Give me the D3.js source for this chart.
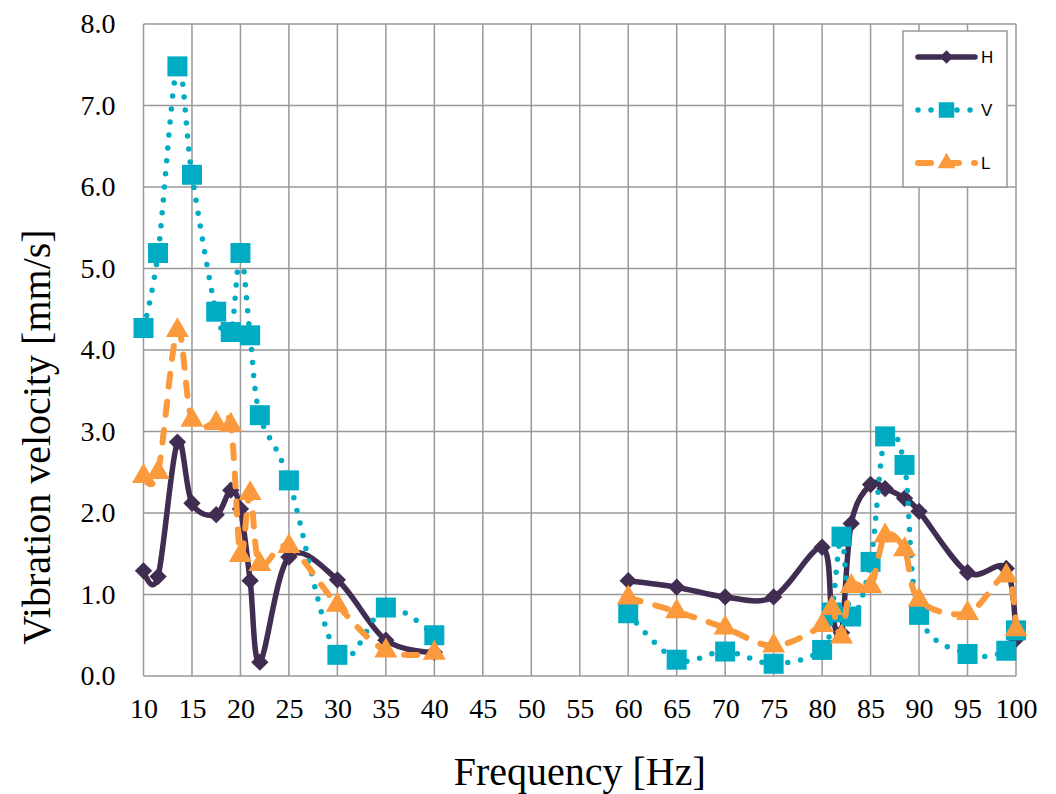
<!DOCTYPE html>
<html>
<head>
<meta charset="utf-8">
<script src="https://cdn.jsdelivr.net/npm/d3@7"></script>
<style>
    body { margin: 0; background: #fff; }
    #chart { width: 1056px; height: 794px; }
    .tick-label { font-family: 'Liberation Serif', 'Times New Roman', serif; font-size: 28px; fill: #000; }
    .axis-title { font-family: 'Liberation Serif', 'Times New Roman', serif; font-size: 40px; fill: #000; }
    .legend-text { font-family: 'Liberation Sans', Arial, sans-serif; font-size: 17px; fill: #000; }
</style>
</head>
<body>
<div id="chart"></div>
<script>
//Datos: dos tramos de frecuencia (sin medidas entre 40 y 60 Hz)
let freqLow = [10, 11.5, 13.5, 15, 17.5, 19, 20, 21, 22, 25, 30, 35, 40];
let hLow = [1.29, 1.22, 2.87, 2.12, 1.98, 2.28, 2.05, 1.17, 0.17, 1.46, 1.18, 0.44, 0.29];
let vLow = [4.27, 5.19, 7.48, 6.15, 4.47, 4.22, 5.19, 4.18, 3.20, 2.40, 0.26, 0.84, 0.50];
let lLow = [2.45, 2.50, 4.24, 3.14, 3.10, 3.08, 1.48, 2.24, 1.37, 1.59, 0.87, 0.31, 0.28];

let freqHigh = [60, 65, 70, 75, 80, 81, 82, 83, 85, 86.5, 88.5, 90, 95, 99, 100];
let hHigh = [1.17, 1.09, 0.97, 0.97, 1.58, 0.78, 0.53, 1.87, 2.35, 2.30, 2.18, 2.02, 1.27, 1.32, 0.45];
let vHigh = [0.77, 0.20, 0.30, 0.15, 0.32, 0.78, 1.71, 0.73, 1.40, 2.94, 2.59, 0.75, 0.27, 0.31, 0.56];
let lHigh = [0.96, 0.79, 0.59, 0.37, 0.62, 0.83, 0.48, 1.10, 1.10, 1.72, 1.55, 0.93, 0.77, 1.23, 0.57];

let seriesNames = ['H', 'V', 'L'];
let xTicks = d3.range(10, 101, 5);
let yTicks = d3.range(0, 8.01, 1);

//Estilos de cada serie (el rombo es un cuadrado girado 45º)
let styles = {
    H: { color: '#412c52', width: 5.5, dash: null, marker: d3.symbolSquare, rotate: 45, size: 150 },
    V: { color: '#00acc3', width: 5.5, dash: '0 13', marker: d3.symbolSquare, rotate: 0, size: 400 },
    L: { color: '#fb9a3c', width: 6, dash: '13 15', marker: d3.symbolTriangle, rotate: 0, size: 230 }
};

let seriesData = {
    H: [freqLow.map((f, i) => ({ f: f, v: hLow[i] })), freqHigh.map((f, i) => ({ f: f, v: hHigh[i] }))],
    V: [freqLow.map((f, i) => ({ f: f, v: vLow[i] })), freqHigh.map((f, i) => ({ f: f, v: vHigh[i] }))],
    L: [freqLow.map((f, i) => ({ f: f, v: lLow[i] })), freqHigh.map((f, i) => ({ f: f, v: lHigh[i] }))]
};

let chartBlock = d3.select('#chart');
let margin = { top: 24, right: 40, bottom: 118, left: 143.5 };
let width = 1056 - margin.left - margin.right,
    height = 794 - margin.top - margin.bottom;

let svg = chartBlock.append('svg')
    .attr('width', 1056)
    .attr('height', 794);

let chart = svg.append('g')
    .attr('transform', 'translate(' + margin.left + ',' + margin.top + ')');

let x_c = d3.scaleLinear().domain([10, 100]).range([0, width]);
let y_c = d3.scaleLinear().domain([0, 8]).range([height, 0]);

//Rejilla
chart.append('g')
    .selectAll('line.vgrid')
    .data(xTicks)
    .enter()
    .append('line')
    .attr('x1', d => x_c(d)).attr('x2', d => x_c(d))
    .attr('y1', 0).attr('y2', height)
    .attr('stroke', '#999').attr('stroke-width', 1.5);

chart.append('g')
    .selectAll('line.hgrid')
    .data(yTicks)
    .enter()
    .append('line')
    .attr('x1', 0).attr('x2', width)
    .attr('y1', d => y_c(d)).attr('y2', d => y_c(d))
    .attr('stroke', '#999').attr('stroke-width', 1.5);

//Ejes
let xAxis = function(g) {
    g.call(d3.axisBottom(x_c).tickValues(xTicks).tickSize(0).tickPadding(22).tickFormat(d3.format('d')));
    g.call(g => g.select('.domain').remove());
    g.selectAll('text').attr('class', 'tick-label').attr('font-size', null).attr('font-family', null);
};
chart.append('g')
    .attr('transform', 'translate(0,' + height + ')')
    .call(xAxis);

let yAxis = function(g) {
    g.call(d3.axisLeft(y_c).tickValues(yTicks).tickSize(0).tickPadding(28).tickFormat(d3.format('.1f')));
    g.call(g => g.select('.domain').remove());
    g.selectAll('text').attr('class', 'tick-label').attr('font-size', null).attr('font-family', null);
};
chart.append('g').call(yAxis);

//Títulos
svg.append('text')
    .attr('class', 'axis-title')
    .attr('x', margin.left + width / 2)
    .attr('y', 785)
    .attr('text-anchor', 'middle')
    .text('Frequency [Hz]');

svg.append('text')
    .attr('class', 'axis-title')
    .attr('transform', 'translate(50,437) rotate(-90)')
    .attr('text-anchor', 'middle')
    .text('Vibration velocity [mm/s]');

//Líneas suavizadas
let line = d3.line()
    .x(d => x_c(d.f))
    .y(d => y_c(d.v))
    .curve(d3.curveCatmullRom.alpha(0));

seriesNames.forEach(function(name) {
    let st = styles[name];
    let g = chart.append('g').attr('class', 'serie-' + name);
    seriesData[name].forEach(function(part) {
        g.append('path')
            .datum(part)
            .attr('d', line)
            .attr('fill', 'none')
            .attr('stroke', st.color)
            .attr('stroke-width', st.width)
            .attr('stroke-linecap', 'round')
            .attr('stroke-linejoin', 'round')
            .attr('stroke-dasharray', st.dash);
    });
    g.selectAll('path.marker')
        .data(seriesData[name][0].concat(seriesData[name][1]))
        .enter()
        .append('path')
        .attr('class', 'marker')
        .attr('d', d3.symbol().type(st.marker).size(st.size))
        .attr('transform', d => 'translate(' + x_c(d.f) + ',' + y_c(d.v) + ') rotate(' + st.rotate + ')')
        .attr('fill', st.color);
});

//Leyenda
let legend = svg.append('g').attr('transform', 'translate(903,31)');
legend.append('rect')
    .attr('width', 104).attr('height', 156)
    .attr('fill', '#fff').attr('stroke', '#999').attr('stroke-width', 1.5);

seriesNames.forEach(function(name, i) {
    let st = styles[name];
    let yy = 26 + i * 53;
    legend.append('line')
        .attr('x1', 15).attr('x2', 72)
        .attr('y1', yy).attr('y2', yy)
        .attr('stroke', st.color)
        .attr('stroke-width', st.width)
        .attr('stroke-linecap', 'round')
        .attr('stroke-dasharray', st.dash);
    legend.append('path')
        .attr('d', d3.symbol().type(st.marker).size(st.size * 0.6))
        .attr('transform', 'translate(43.5,' + yy + ') rotate(' + st.rotate + ')')
        .attr('fill', st.color);
    legend.append('text')
        .attr('class', 'legend-text')
        .attr('x', 78).attr('y', yy + 6)
        .text(name);
});
</script>
</body>
</html>
